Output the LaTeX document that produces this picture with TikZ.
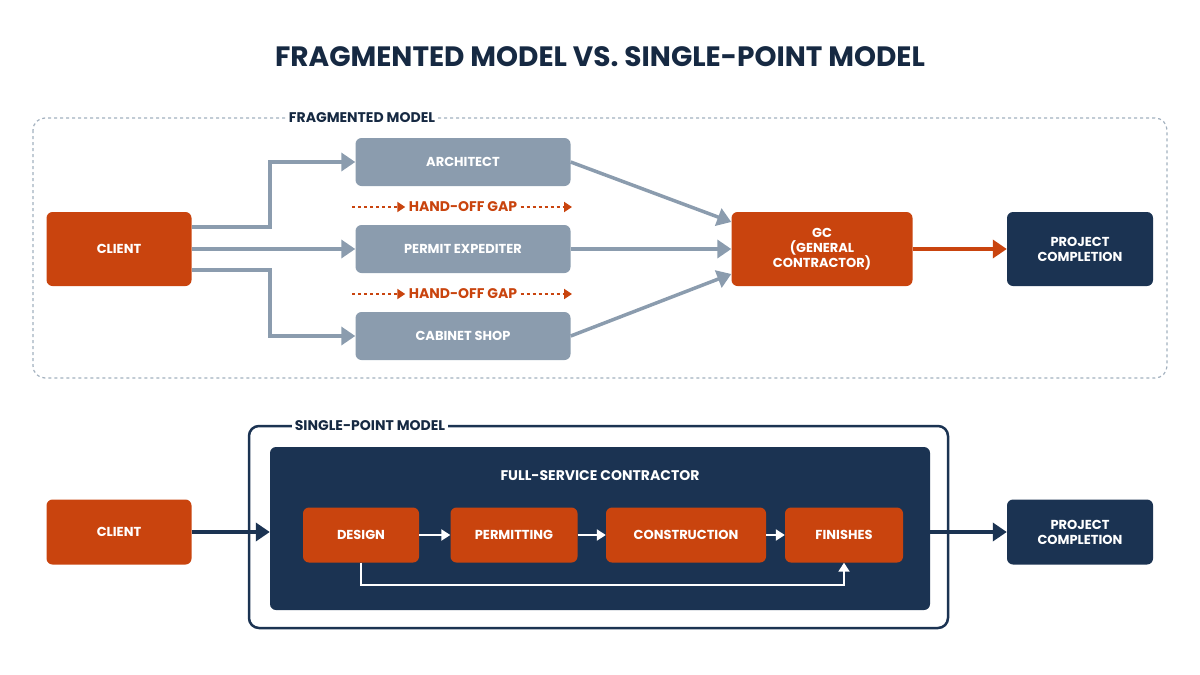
\documentclass[tikz,border=0pt]{standalone}
\usepackage{fontspec}
\setmainfont{Poppins}
\usetikzlibrary{arrows.meta,positioning}
\definecolor{rust}{HTML}{C9440E}
\definecolor{navy}{HTML}{1B3352}
\definecolor{slate}{HTML}{8B9CAE}
\tikzset{
  box/.style={rounded corners=6pt,align=center,text=white,font=\bfseries\fontsize{13}{15}\selectfont,inner sep=0pt},
  rustbox/.style={box,fill=rust},
  navybox/.style={box,fill=navy},
  slatebox/.style={box,fill=slate,minimum width=215pt,minimum height=48pt},
  flow/.style={draw=slate,line width=3.5pt,-{Triangle[length=14pt,width=18pt]}},
}
\begin{document}
\begin{tikzpicture}[x=1pt,y=-1pt]
  \useasboundingbox (0,0) rectangle (1200,675);
  \node[font=\bfseries\fontsize{28}{32}\selectfont,text=navy!80!black] (title) at (600,57) {FRAGMENTED MODEL VS. SINGLE-POINT MODEL};

  % fragmented model
  \draw[slate!80,dashed,line width=1.2pt,rounded corners=12pt] (33,118) rectangle (1167,378);
  \node[fill=white,font=\bfseries\fontsize{14}{16}\selectfont,text=navy!80!black] (fraglbl) at (362,118) {FRAGMENTED MODEL};
  \node[rustbox,minimum width=145pt,minimum height=74pt] (client) at (119,249) {CLIENT};
  \node[slatebox] (arch) at (463,162) {ARCHITECT};
  \node[slatebox] (permit) at (463,249) {PERMIT EXPEDITER};
  \node[slatebox] (cabinet) at (463,336) {CABINET SHOP};
  \node[rustbox,minimum width=181pt,minimum height=74pt] (gc) at (822,249) {GC\\(GENERAL\\CONTRACTOR)};
  \node[navybox,minimum width=146pt,minimum height=74pt] (done) at (1080,249) {PROJECT\\COMPLETION};
  \foreach \y/\n in {207/gapa,294/gapb}{
    \node[font=\bfseries\fontsize{14}{16}\selectfont,text=rust] (\n) at (463,\y) {HAND-OFF GAP};
    \draw[rust,line width=2pt,dashed,-{Triangle[length=8pt,width=10pt]}] (352,\y) -- (\n.west);
    \draw[rust,line width=2pt,dashed,-{Triangle[length=8pt,width=10pt]}] (\n.east) -- (572,\y);
  }
  \draw[flow] (client.east |- 0,227) -| (270,162) -- (arch.west);
  \draw[flow] (client.east) -- (permit.west);
  \draw[flow] (client.east |- 0,270) -| (270,336) -- (cabinet.west);
  \draw[flow] (arch.east) -- (gc.west |- 0,222);
  \draw[flow] (permit.east) -- (gc.west);
  \draw[flow] (cabinet.east) -- (gc.west |- 0,274);
  \draw[flow,draw=rust] (gc.east) -- (done.west);

  % single-point model
  \draw[navy,line width=2.5pt,rounded corners=10pt] (249,426) rectangle (948,628);
  \node[fill=white,font=\bfseries\fontsize{14}{16}\selectfont,text=navy!80!black] (singlelbl) at (370,426) {SINGLE-POINT MODEL};
  \node[navybox,minimum width=660pt,minimum height=163pt] (fsc) at (600,528.5) {};
  \node[font=\bfseries\fontsize{14}{16}\selectfont,text=white] (fsclbl) at (600,476) {FULL-SERVICE CONTRACTOR};
  \node[rustbox,minimum width=145pt,minimum height=65pt] (client2) at (119,532) {CLIENT};
  \node[navybox,minimum width=146pt,minimum height=65pt] (done2) at (1080,532) {PROJECT\\COMPLETION};
  \node[rustbox,minimum width=116pt,minimum height=55pt] (design) at (361,535) {DESIGN};
  \node[rustbox,minimum width=127pt,minimum height=55pt] (permitting) at (514,535) {PERMITTING};
  \node[rustbox,minimum width=160pt,minimum height=55pt] (build) at (686,535) {CONSTRUCTION};
  \node[rustbox,minimum width=118pt,minimum height=55pt] (finish) at (844,535) {FINISHES};
  \draw[flow,draw=navy] (client2.east) -- (fsc.west |- client2.east);
  \draw[flow,draw=navy] (fsc.east |- done2.west) -- (done2.west);
  \foreach \a/\b in {design/permitting,permitting/build,build/finish}
    \draw[white,line width=2.5pt,-{Triangle[length=9pt,width=11pt]}] (\a.east) -- (\b.west);
  \draw[white,line width=2pt,-{Triangle[length=9pt,width=11pt]}] (design.south) |- (844,585) -- (finish.south);
\end{tikzpicture}
\end{document}
